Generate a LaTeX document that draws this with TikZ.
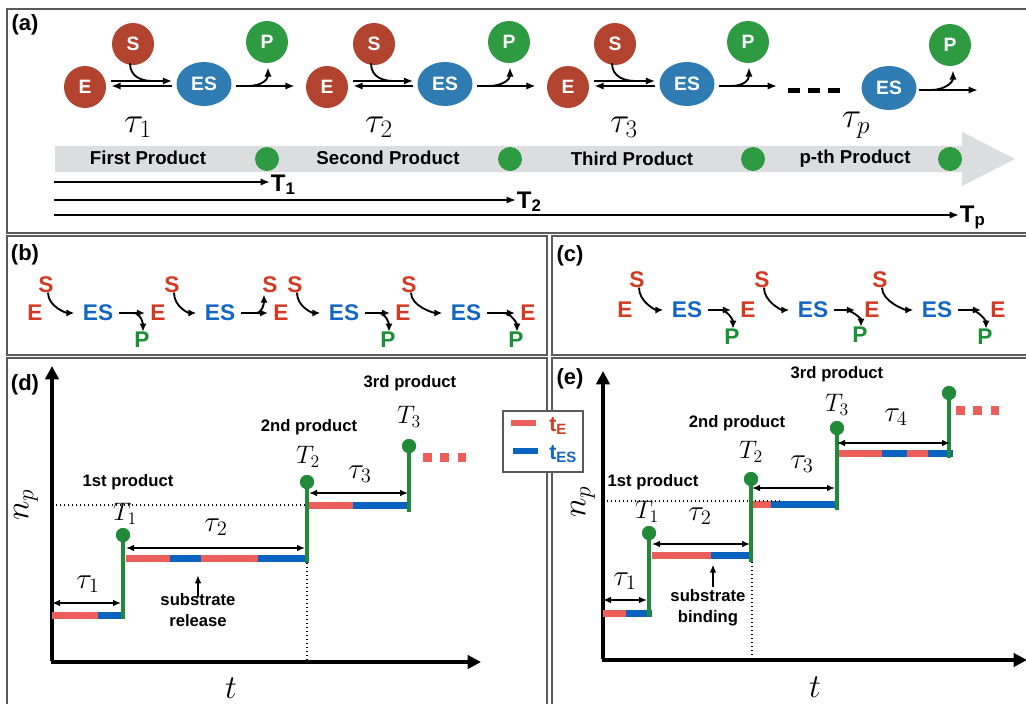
\documentclass[tikz,border=0pt]{standalone}
\usepackage{fix-cm}
\usepackage{amsmath}
\usepackage{fontspec}
\setsansfont{Liberation Sans}
\usepackage{tikz}
\usetikzlibrary{positioning, shapes.geometric, arrows.meta}

\definecolor{framegray}{HTML}{5A5A5A}
\definecolor{ballred}{HTML}{B2432F}
\definecolor{ballblue}{HTML}{2F7CB3}
\definecolor{ballgreen}{HTML}{2E9B43}
\definecolor{bargray}{HTML}{DCDDDF}
\definecolor{tred}{HTML}{D33A22}
\definecolor{tblue}{HTML}{1466C4}
\definecolor{tgreen}{HTML}{1B8F35}
\definecolor{barred}{HTML}{EC5E5A}
\definecolor{barblue}{HTML}{0B63C1}
\definecolor{stemgreen}{HTML}{208A38}

\newcommand{\fz}[1]{\fontsize{#1}{#1}\selectfont}

\tikzset{
  panel/.style={draw=framegray, line width=1.2pt},
  plbl/.style={font=\sffamily\bfseries\fz{16.5}, inner sep=0pt},
  ballE/.style={circle, fill=ballred, text=white, minimum size=31.5pt, inner sep=0pt, font=\sffamily\bfseries\fz{14.5}},
  ballP/.style={ballE, fill=ballgreen},
  ballES/.style={ellipse, fill=ballblue, text=white, minimum width=41.25pt, minimum height=33pt, inner sep=0pt, font=\sffamily\bfseries\fz{14.5}},
  rxn/.style={line width=1.4pt, -{Latex[length=7pt,width=5.5pt]}},
  hook/.style={line width=1.4pt},
  dashblk/.style={line width=3.75pt, dash pattern=on 9pt off 6pt},
  barlbl/.style={font=\sffamily\bfseries\fz{14}, inner sep=0pt},
  gdot/.style={circle, fill=ballgreen, minimum size=18pt, inner sep=0pt},
  tlbl/.style={font=\sffamily\bfseries\fz{18}, inner sep=0.5pt},
  tauA/.style={font=\fz{27}, inner sep=0pt},
  lE/.style={font=\sffamily\bfseries\fz{17}, text=tred, inner sep=1pt},
  lES/.style={lE, text=tblue},
  lP/.style={lE, text=tgreen},
  barr/.style={line width=1.4pt, -{Latex[length=6pt,width=5.5pt]}},
  axis/.style={line width=2.6pt, -{Triangle[length=10pt,width=10pt]}},
  tEbar/.style={line width=5.25pt, barred},
  tESbar/.style={line width=5.25pt, barblue},
  stemln/.style={line width=2.4pt, stemgreen},
  sdot/.style={circle, fill=stemgreen, minimum size=10.5pt, inner sep=0pt},
  span/.style={line width=1.1pt, {Latex[length=6pt,width=5pt]}-{Latex[length=6pt,width=5pt]}},
  uparr/.style={line width=1.1pt, -{Latex[length=6pt,width=5pt]}},
  dotln/.style={line width=1pt, dotted},
  dashred/.style={line width=6.75pt, barred, dash pattern=on 6.5pt off 6.5pt},
  tauD/.style={font=\fz{22}, inner sep=0pt},
  Tl/.style={font=\fz{19}, inner sep=0pt},
  axl/.style={font=\fz{25}, inner sep=0pt},
  prodl/.style={font=\sffamily\bfseries\fz{12.5}, inner sep=0pt, align=center},
  legl/.style={font=\sffamily\bfseries\fz{16}, inner sep=0pt}
}

\begin{document}
\begin{tikzpicture}[x=0.75pt, y=-0.75pt]
\useasboundingbox (0,0) rectangle (1026,704);
\clip (0,0) rectangle (1026,704);
\fill[white] (0,0) rectangle (1026,704);

%Panels
\draw[panel] (7,9) rectangle (1032,233);
\draw[panel] (7,236) rectangle (547,355);
\draw[panel] (552,236) rectangle (1032,355);
\draw[panel] (7,358) rectangle (547,710);
\draw[panel] (552,358) rectangle (1032,710);

%(a) Nodes
\node[plbl] (la) at (25,25) {(a)};
\node[ballE] (E1) at (85,87) {E};
\node[ballE] (S1) at (133,44) {S};
\node[ballES] (ES1) at (204,84) {ES};
\node[ballP] (P1) at (267,42) {P};
\node[ballE] (E2) at (327,87) {E};
\node[ballE] (S2) at (374,44) {S};
\node[ballES] (ES2) at (445,84) {ES};
\node[ballP] (P2) at (509,42) {P};
\node[ballE] (E3) at (568,87) {E};
\node[ballE] (S3) at (615,44) {S};
\node[ballES] (ES3) at (687,84) {ES};
\node[ballP] (P3) at (748,42) {P};
\node[ballES] (ES4) at (889,88) {ES};
\node[ballP] (P4) at (950,45) {P};
\coordinate (adots) at (777,86);
\coordinate (d1) at (788,90);
\coordinate (d2) at (840,90);
\coordinate (aend) at (978,90);

\node[tauA] (tau1) at (138,127) {$\tau_1$};
\node[tauA] (tau2) at (379,127) {$\tau_2$};
\node[tauA] (tau3) at (624,127) {$\tau_3$};
\node[tauA] (taup) at (856,125) {$\tau_p$};

%(a) Lines
\draw[rxn] ([shift={(5,-6)}]E1.east) -- ([shift={(-4,-3)}]ES1.west);
\draw[rxn] ([shift={(-4,2)}]ES1.west) -- ([shift={(5,-1)}]E1.east);
\draw[hook] ([shift={(-3,-2)}]S1.south) .. controls +(0,14) and +(-10,0) .. ([shift={(-24,-3)}]ES1.west);
\draw[rxn] ([shift={(4,2)}]ES1.east) -- ([shift={(-11,-1)}]E2.west);
\draw[rxn] ([shift={(16,2)}]ES1.east) .. controls +(14,0) and +(0,12) .. ([shift={(1,4)}]P1.south);

\draw[rxn] ([shift={(5,-6)}]E2.east) -- ([shift={(-4,-3)}]ES2.west);
\draw[rxn] ([shift={(-4,2)}]ES2.west) -- ([shift={(5,-1)}]E2.east);
\draw[hook] ([shift={(-3,-2)}]S2.south) .. controls +(0,14) and +(-10,0) .. ([shift={(-24,-3)}]ES2.west);
\draw[rxn] ([shift={(4,2)}]ES2.east) -- ([shift={(-11,-1)}]E3.west);
\draw[rxn] ([shift={(16,2)}]ES2.east) .. controls +(14,0) and +(0,12) .. ([shift={(1,4)}]P2.south);

\draw[rxn] ([shift={(5,-6)}]E3.east) -- ([shift={(-4,-3)}]ES3.west);
\draw[rxn] ([shift={(-4,2)}]ES3.west) -- ([shift={(5,-1)}]E3.east);
\draw[hook] ([shift={(-3,-2)}]S3.south) .. controls +(0,14) and +(-10,0) .. ([shift={(-24,-3)}]ES3.west);
\draw[rxn] ([shift={(4,2)}]ES3.east) -- (adots);
\draw[rxn] ([shift={(16,2)}]ES3.east) .. controls +(14,0) and +(0,12) .. ([shift={(1,4)}]P3.south);
\draw[dashblk] (d1) -- (d2);

\draw[rxn] ([shift={(2,2)}]ES4.east) -- (aend);
\draw[rxn] ([shift={(14,2)}]ES4.east) .. controls +(14,0) and +(0,12) .. ([shift={(3,4)}]P4.south);

%(a) time bar
\fill[bargray] (55,146) -- (962,146) -- (962,132) -- (1015,159) -- (962,186) -- (962,172) -- (55,172) -- cycle;
\node[barlbl] (b1) at (148,158) {First Product};
\node[barlbl] (b2) at (388,158) {Second Product};
\node[barlbl] (b3) at (632,159) {Third Product};
\node[barlbl] (b4) at (855,159) {p-th Product};
\node[gdot] (g1) at (267,159) {};
\node[gdot] (g2) at (510,159) {};
\node[gdot] (g3) at (753,159) {};
\node[gdot] (g4) at (950,159) {};

\coordinate (o1) at (54,182);
\coordinate (o2) at (54,200);
\coordinate (o3) at (54,215);
\node[tlbl, anchor=base west] (T1) at (270,191) {T\textsubscript{1}};
\node[tlbl, anchor=base west] (T2) at (516,208) {T\textsubscript{2}};
\node[tlbl, anchor=base west] (Tp) at (959,222) {T\textsubscript{p}};
\draw[rxn] (o1) -- (o1 -| T1.west);
\draw[rxn] (o2) -- (o2 -| T2.west);
\draw[rxn] (o3) -- (o3 -| Tp.west);

%(b) Nodes
\node[plbl] (lb) at (25,255) {(b)};
\node[lE] (bS1) at (46,285) {S};
\node[lE] (bE1) at (35,313) {E};
\node[lES] (bES1) at (98,313) {ES};
\node[lP] (bP1) at (142,340) {P};
\node[lE] (bE2) at (158,313) {E};
\node[lE] (bS2) at (172,285) {S};
\node[lES] (bES2) at (220,313) {ES};
\node[lE] (bS3) at (270,285) {S};
\node[lE] (bE3) at (281,313) {E};
\node[lE] (bS4) at (295,285) {S};
\node[lES] (bES3) at (344,313) {ES};
\node[lP] (bP2) at (388,340) {P};
\node[lE] (bE4) at (403,313) {E};
\node[lE] (bS5) at (409,285) {S};
\node[lES] (bES4) at (466,313) {ES};
\node[lP] (bP3) at (516,340) {P};
\node[lE] (bE5) at (528,313) {E};

%(b) Lines
\draw[barr] ([shift={(2,-2)}]bS1.south) .. controls +(0,14) and +(-8,0) .. ([shift={(-7,0)}]bES1.west);
\draw[barr] ([shift={(4,0)}]bES1.east) -- ([shift={(-4,0)}]bE2.west);
\draw[barr] ([shift={(-15,0)}]bE2.west) .. controls +(7,0) and +(0,-8) .. ([shift={(1,1)}]bP1.north);
\draw[barr] ([shift={(2,-2)}]bS2.south) .. controls +(0,14) and +(-8,0) .. ([shift={(-7,0)}]bES2.west);
\draw[barr] ([shift={(4,0)}]bES2.east) -- ([shift={(-4,0)}]bE3.west);
\draw[barr] ([shift={(-16,0)}]bE3.west) .. controls +(7,0) and +(0,8) .. ([shift={(-6,0)}]bS3.south);
\draw[barr] ([shift={(2,-2)}]bS4.south) .. controls +(0,14) and +(-8,0) .. ([shift={(-7,0)}]bES3.west);
\draw[barr] ([shift={(4,0)}]bES3.east) -- ([shift={(-4,0)}]bE4.west);
\draw[barr] ([shift={(-15,0)}]bE4.west) .. controls +(7,0) and +(0,-8) .. ([shift={(1,1)}]bP2.north);
\draw[barr] ([shift={(2,-2)}]bS5.south) .. controls +(0,14) and +(-8,0) .. ([shift={(-7,0)}]bES4.west);
\draw[barr] ([shift={(4,0)}]bES4.east) -- ([shift={(-4,0)}]bE5.west);
\draw[barr] ([shift={(-15,0)}]bE5.west) .. controls +(7,0) and +(0,-8) .. ([shift={(1,1)}]bP3.north);

%(c) Nodes
\node[plbl] (lc) at (570,256) {(c)};
\node[lE] (cS1) at (637,280) {S};
\node[lE] (cE1) at (625,310) {E};
\node[lES] (cES1) at (687,310) {ES};
\node[lP] (cP1) at (732,337) {P};
\node[lE] (cE2) at (748,310) {E};
\node[lE] (cS2) at (762,280) {S};
\node[lES] (cES2) at (813,310) {ES};
\node[lP] (cP2) at (860,335) {P};
\node[lE] (cE3) at (872,310) {E};
\node[lE] (cS3) at (880,280) {S};
\node[lES] (cES3) at (937,310) {ES};
\node[lP] (cP3) at (985,337) {P};
\node[lE] (cE4) at (998,310) {E};

%(c) Lines
\draw[barr] ([shift={(2,-2)}]cS1.south) .. controls +(0,14) and +(-8,0) .. ([shift={(-7,0)}]cES1.west);
\draw[barr] ([shift={(4,0)}]cES1.east) -- ([shift={(-8,0)}]cE2.west);
\draw[barr] ([shift={(-18,0)}]cE2.west) .. controls +(7,0) and +(0,-8) .. ([shift={(1,1)}]cP1.north);
\draw[barr] ([shift={(2,-2)}]cS2.south) .. controls +(0,14) and +(-8,0) .. ([shift={(-7,0)}]cES2.west);
\draw[barr] ([shift={(4,0)}]cES2.east) -- ([shift={(-8,0)}]cE3.west);
\draw[barr] ([shift={(-18,0)}]cE3.west) .. controls +(7,0) and +(0,-8) .. ([shift={(1,1)}]cP2.north);
\draw[barr] ([shift={(2,-2)}]cS3.south) .. controls +(0,14) and +(-8,0) .. ([shift={(-7,0)}]cES3.west);
\draw[barr] ([shift={(4,0)}]cES3.east) -- ([shift={(-8,0)}]cE4.west);
\draw[barr] ([shift={(-18,0)}]cE4.west) .. controls +(7,0) and +(0,-8) .. ([shift={(1,1)}]cP3.north);

%(d) Axes
\node[plbl] (ld) at (25,385) {(d)};
\coordinate (dO) at (52,662);
\coordinate (dY) at (52,366);
\coordinate (dX) at (481,662);
\draw[axis] ([yshift=1pt]dO) -- (dY);
\draw[axis] ([xshift=-1pt]dO) -- (dX);
\node[axl, rotate=90] (dnp) at (26,505) {$n_p$};
\node[axl] (dt) at (231,688) {$t$};

%(d) Steps
\draw[tEbar] (52,615) -- (98,615);
\draw[tESbar] (98,615) -- (123,615);
\draw[tEbar] (126,558) -- (170,558);
\draw[tESbar] (170,558) -- (201,558);
\draw[tEbar] (201,558) -- (258,558);
\draw[tESbar] (258,558) -- (306,558);
\draw[tEbar] (309,505) -- (353,505);
\draw[tESbar] (353,505) -- (409,505);
\draw[dotln] (56,505) -- (307,505);
\draw[dotln] (307,563) -- (307,660);

\node[sdot] (dT1) at (123,535) {};
\node[sdot] (dT2) at (307,482) {};
\node[sdot] (dT3) at (409,446) {};
\coordinate (dB1) at (123,619);
\coordinate (dB2) at (307,563);
\coordinate (dB3) at (409,512);
\draw[stemln] (dB1) -- (dT1.center);
\draw[stemln] (dB2) -- (dT2.center);
\draw[stemln] (dB3) -- (dT3.center);
\node[sdot] at (dT1) {};
\node[sdot] at (dT2) {};
\node[sdot] at (dT3) {};
\draw[dashred] (423,457) -- (469,457);

\draw[span] (52,603) -- (121,603);
\draw[span] (126,548) -- (305,548);
\draw[span] (309,493) -- (408,493);
\node[tauD] (dtau1) at (88,584) {$\tau_1$};
\node[tauD] (dtau2) at (216,527) {$\tau_2$};
\node[tauD] (dtau3) at (360,474) {$\tau_3$};
\node[Tl] (dlT1) at (125,514) {$T_1$};
\node[Tl] (dlT2) at (308,457) {$T_2$};
\node[Tl] (dlT3) at (409,417) {$T_3$};
\node[prodl] (dp1) at (128,482) {1st product};
\node[prodl] (dp2) at (309,427) {2nd product};
\node[prodl] (dp3) at (410,383) {3rd product};
\node[prodl] (dsr) at (198,610) {substrate\\[3pt]release};
\draw[uparr] ([yshift=-3pt]dsr.north) -- ++(0,-22);

%(e) Axes
\node[plbl] (le) at (570,379) {(e)};
\coordinate (eO) at (603,660);
\coordinate (eY) at (603,371);
\coordinate (eX) at (1027,660);
\draw[axis] ([yshift=1pt]eO) -- (eY);
\draw[axis] ([xshift=-1pt]eO) -- (eX);
\node[axl, rotate=90] (enp) at (583,502) {$n_p$};
\node[axl] (et) at (815,687) {$t$};

%(e) Steps
\draw[tEbar] (603,613) -- (626,613);
\draw[tESbar] (626,613) -- (652,613);
\draw[tEbar] (652,555) -- (711,555);
\draw[tESbar] (711,555) -- (752,555);
\draw[tEbar] (752,504) -- (771,504);
\draw[tESbar] (771,504) -- (838,504);
\draw[tEbar] (837,453) -- (882,453);
\draw[tESbar] (882,453) -- (907,453);
\draw[tEbar] (907,453) -- (928,453);
\draw[tESbar] (928,453) -- (953,453);
\draw[dotln] (607,501) -- (780,501);
\draw[dotln] (752,562) -- (752,658);

\node[sdot] (eT1) at (649,533) {};
\node[sdot] (eT2) at (751,479) {};
\node[sdot] (eT3) at (837,428) {};
\node[sdot] (eT4) at (949,393) {};
\coordinate (eB1) at (649,617);
\coordinate (eB2) at (751,562);
\coordinate (eB3) at (837,510);
\coordinate (eB4) at (949,458);
\draw[stemln] (eB1) -- (eT1.center);
\draw[stemln] (eB2) -- (eT2.center);
\draw[stemln] (eB3) -- (eT3.center);
\draw[stemln] (eB4) -- (eT4.center);
\node[sdot] at (eT1) {};
\node[sdot] at (eT2) {};
\node[sdot] at (eT3) {};
\node[sdot] at (eT4) {};
\draw[dashred] (956,410) -- (1002,410);

\draw[span] (603,600) -- (647,600);
\draw[span] (652,544) -- (750,544);
\draw[span] (752,488) -- (835,488);
\draw[span] (837,443) -- (950,443);
\node[tauD] (etau1) at (625,581) {$\tau_1$};
\node[tauD] (etau2) at (700,516) {$\tau_2$};
\node[tauD] (etau3) at (802,464) {$\tau_3$};
\node[tauD] (etau4) at (896,417) {$\tau_4$};
\node[Tl] (elT1) at (647,512) {$T_1$};
\node[Tl] (elT2) at (751,452) {$T_2$};
\node[Tl] (elT3) at (837,405) {$T_3$};
\node[prodl] (ep1) at (653,482) {1st product};
\node[prodl] (ep2) at (737,423) {2nd product};
\node[prodl] (ep3) at (837,374) {3rd product};
\node[prodl] (esb) at (708,608) {substrate\\[3pt]binding};
\draw[uparr] ([shift={(5,-3)}]esb.north) -- ++(0,-22);

%Legend
\node[draw=framegray, line width=1.2pt, fill=white, minimum width=60pt, minimum height=45.75pt, inner sep=0pt] (leg) at (543,441.5) {};
\coordinate (lr1) at (511,423);
\coordinate (lr2) at (536,423);
\coordinate (lb1) at (513,451);
\coordinate (lb2) at (538,451);
\draw[line width=4.5pt, barred] (lr1) -- (lr2);
\draw[line width=4.5pt, barblue] (lb1) -- (lb2);
\node[legl, text=tred, anchor=west] (lgE) at (549,426) {t\textsubscript{E}};
\node[legl, text=tblue, anchor=west] (lgES) at (549,454) {t\textsubscript{ES}};
\end{tikzpicture}
\end{document}
